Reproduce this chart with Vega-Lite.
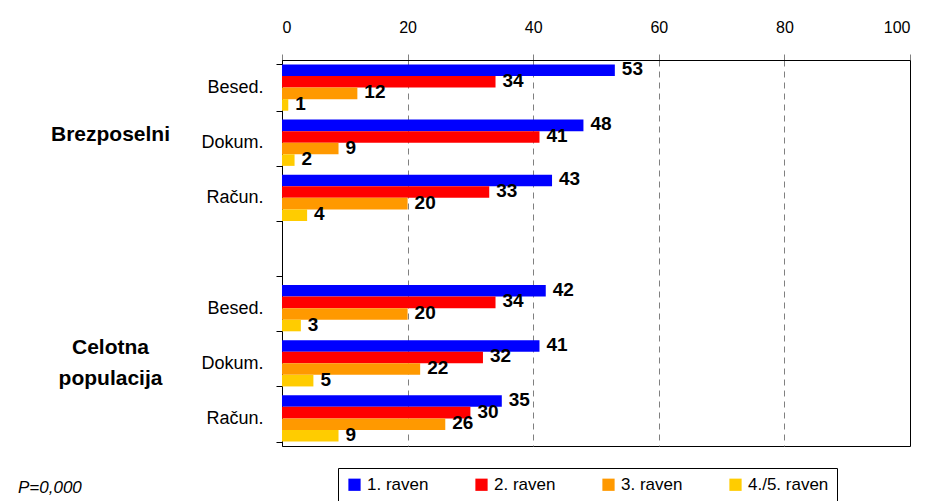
{
  "$schema": "https://vega.github.io/schema/vega-lite/v6.json",
  "width": 628,
  "height": 386,
  "autosize": {"type": "none"},
  "padding": {"left": 282, "top": 60, "right": 37, "bottom": 55},
  "background": "white",
  "title": {"text": "P=0,000", "orient": "bottom", "anchor": "start", "frame": "group", "dx": -264, "offset": 0, "dy": -22, "fontStyle": "italic", "fontWeight": "normal", "fontSize": 17, "color": "black"},
  "data": {"values": [
    {"slot": "B1", "series": "1. raven", "value": 53},
    {"slot": "B1", "series": "2. raven", "value": 34},
    {"slot": "B1", "series": "3. raven", "value": 12},
    {"slot": "B1", "series": "4./5. raven", "value": 1},
    {"slot": "B2", "series": "1. raven", "value": 48},
    {"slot": "B2", "series": "2. raven", "value": 41},
    {"slot": "B2", "series": "3. raven", "value": 9},
    {"slot": "B2", "series": "4./5. raven", "value": 2},
    {"slot": "B3", "series": "1. raven", "value": 43},
    {"slot": "B3", "series": "2. raven", "value": 33},
    {"slot": "B3", "series": "3. raven", "value": 20},
    {"slot": "B3", "series": "4./5. raven", "value": 4},
    {"slot": "C1", "series": "1. raven", "value": 42},
    {"slot": "C1", "series": "2. raven", "value": 34},
    {"slot": "C1", "series": "3. raven", "value": 20},
    {"slot": "C1", "series": "4./5. raven", "value": 3},
    {"slot": "C2", "series": "1. raven", "value": 41},
    {"slot": "C2", "series": "2. raven", "value": 32},
    {"slot": "C2", "series": "3. raven", "value": 22},
    {"slot": "C2", "series": "4./5. raven", "value": 5},
    {"slot": "C3", "series": "1. raven", "value": 35},
    {"slot": "C3", "series": "2. raven", "value": 30},
    {"slot": "C3", "series": "3. raven", "value": 26},
    {"slot": "C3", "series": "4./5. raven", "value": 9}
  ]},
  "resolve": {"axis": {"y": "independent"}},
  "layer": [
    {
      "mark": {"type": "bar"},
      "encoding": {
        "y": {"field": "slot", "type": "nominal",
          "scale": {"domain": ["B1", "B2", "B3", "gap", "C1", "C2", "C3"], "paddingInner": 0.16, "paddingOuter": 0.08},
          "axis": {"title": null, "orient": "left", "tickBand": "extent", "labelExpr": "indexof(['B1','C1'], datum.value) >= 0 ? 'Besed.' : indexof(['B2','C2'], datum.value) >= 0 ? 'Dokum.' : indexof(['B3','C3'], datum.value) >= 0 ? 'Račun.' : ''",
            "labelFontSize": 18, "labelColor": "black", "labelPadding": 13, "tickSize": 6, "tickColor": "black", "domainColor": "black", "grid": false}},
        "yOffset": {"field": "series", "type": "nominal", "sort": ["1. raven", "2. raven", "3. raven", "4./5. raven"]},
        "x": {"field": "value", "type": "quantitative",
          "scale": {"domain": [0, 100], "nice": false},
          "axis": {"title": null, "orient": "top", "values": [0, 20, 40, 60, 80, 100], "labelFontSize": 16, "labelColor": "black", "labelPadding": 19, "tickSize": 6, "tickColor": "#808080", "domainColor": "black", "grid": true, "gridColor": "#808080", "gridDash": [6, 5], "gridWidth": 1,
            "gridOpacity": {"condition": {"test": "datum.value == 0 || datum.value == 100", "value": 0}, "value": 1}}},
        "color": {"field": "series", "type": "nominal",
          "scale": {"domain": ["1. raven", "2. raven", "3. raven", "4./5. raven"], "range": ["#0000FF", "#FF0000", "#FF9900", "#FFCC00"]},
          "legend": {"title": null, "orient": "none", "legendX": 56, "legendY": 408, "direction": "horizontal", "columns": 4, "symbolType": "square", "symbolSize": 150, "symbolStrokeWidth": 0, "symbolOpacity": 1, "labelFontSize": 17, "labelColor": "black", "labelOffset": 4, "columnPadding": 25, "gridAlign": "all", "padding": 8, "strokeColor": "black", "fillColor": "white"}}
      }
    },
    {
      "mark": {"type": "text", "align": "left", "baseline": "middle", "dx": 7, "dy": -1, "fontSize": 19, "fontWeight": "bold", "color": "black"},
      "encoding": {
        "y": {"field": "slot", "type": "nominal", "axis": null},
        "yOffset": {"field": "series", "type": "nominal", "sort": ["1. raven", "2. raven", "3. raven", "4./5. raven"]},
        "x": {"field": "value", "type": "quantitative"},
        "text": {"field": "value", "type": "quantitative"}
      }
    },
    {
      "mark": {"type": "text", "opacity": 0},
      "encoding": {
        "y": {"field": "slot", "type": "nominal",
          "axis": {"title": null, "orient": "left", "domain": false, "ticks": false, "tickSize": 0, "labelPadding": 172, "labelAlign": "center", "labelBaseline": "middle", "labelFontSize": 21, "labelFontWeight": "bold", "labelColor": "black", "labelLineHeight": 31,
            "labelOffset": {"condition": [{"test": "datum.value == 'B2'", "value": -8}, {"test": "datum.value == 'C2'", "value": -15}], "value": 0},
            "labelExpr": "datum.value == 'B2' ? 'Brezposelni' : datum.value == 'C2' ? ['Celotna', 'populacija'] : ''"}},
        "x": {"field": "value", "type": "quantitative"}
      }
    }
  ],
  "config": {
    "font": "Liberation Sans",
    "view": {"stroke": "black", "strokeWidth": 1}
  }
}
